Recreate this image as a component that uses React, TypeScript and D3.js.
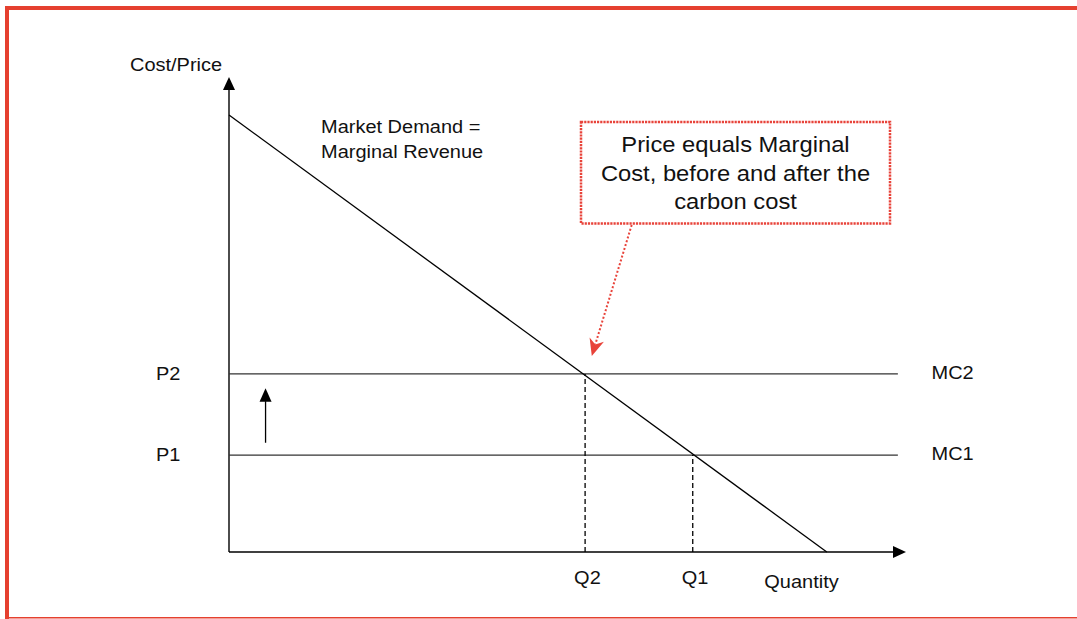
import React from "react";
import * as d3 from "d3";

// ---- data ----
const quantityDomain = [0, 100];
const priceDomain = [0, 100];
const demandPoints = [
  { q: 0, p: 92 },
  { q: 88.3, p: 0 },
];
const mcNames = ["MC1", "MC2"];
const mcPrices = [20.4, 37.5];
const priceLabels = ["P1", "P2"];
const quantityLabels = ["Q1", "Q2"];
const quantityValues = [68.5, 52.6];
const mcLineEnd = 98.8;
const shiftArrow = { q: 5.4, from: 23.0, to: 34.5 };
const noteLines = ["Price equals Marginal", "Cost, before and after the", "carbon cost"];
const demandLabel = ["Market Demand =", "Marginal Revenue"];

const W = 1077;
const H = 619;
const RED = "#e8433a";
const FONT = "'Liberation Sans', Arial, Helvetica, sans-serif";
const SX = 1.08;

function T({ x, y, children, size = 18.5, anchor = "start", fill = "#111" }: any) {
  return (
    <text
      transform={`translate(${x},${y}) scale(${SX},1)`}
      textAnchor={anchor}
      fontFamily={FONT}
      fontSize={size}
      fill={fill}
    >
      {children}
    </text>
  );
}

export default function App() {
  const x = d3.scaleLinear().domain(quantityDomain).range([229, 906]);
  const y = d3.scaleLinear().domain(priceDomain).range([552, 77]);
  const line = d3
    .line<{ q: number; p: number }>()
    .x((d) => x(d.q))
    .y((d) => y(d.p));

  const x0 = x(0);
  const y0 = y(0);
  const xEnd = x(quantityDomain[1]);
  const yEnd = y(priceDomain[1]);

  // annotation arrow
  const a0 = { x: 631.7, y: 225 };
  const tip = { x: x(quantityValues[1]) + 6.7, y: y(mcPrices[1]) - 18 };
  const dx = tip.x - a0.x;
  const dy = tip.y - a0.y;
  const len = Math.hypot(dx, dy);
  const ux = dx / len;
  const uy = dy / len;
  const px = -uy;
  const py = ux;
  const hl = 17;
  const hw = 7.5;
  const base = { x: tip.x - ux * hl, y: tip.y - uy * hl };
  const notch = { x: tip.x - ux * hl * 0.7, y: tip.y - uy * hl * 0.7 };
  const headPath = `M${tip.x},${tip.y}L${base.x + px * hw},${base.y + py * hw}L${notch.x},${notch.y}L${base.x - px * hw},${base.y - py * hw}Z`;

  const boxX = 581;
  const boxY = 122;
  const boxW = 309;
  const boxH = 101.5;
  const boxCx = boxX + boxW / 2;

  return (
    <svg
      width={W}
      height={H}
      style={{ position: "absolute", left: 0, top: 0, background: "#fff" }}
    >
      {/* frame */}
      <rect x={0} y={0} width={W} height={H} fill="#fff" />
      <rect x={5} y={6} width={W - 5} height={4} fill="#e5402f" />
      <rect x={5} y={6} width={4} height={H - 6} fill="#e5402f" />
      <rect x={5} y={617} width={W - 5} height={1.5} fill="#e5402f" />

      {/* axes */}
      <line x1={x0} y1={y0} x2={x0} y2={yEnd + 13} stroke="#000" strokeWidth={1.4} />
      <path d={`M${x0 - 6},${yEnd + 13}L${x0 + 6},${yEnd + 13}L${x0},${yEnd}Z`} fill="#000" />
      <line x1={x0} y1={y0} x2={xEnd - 13} y2={y0} stroke="#000" strokeWidth={1.4} />
      <path d={`M${xEnd - 13},${y0 - 6}L${xEnd - 13},${y0 + 6}L${xEnd},${y0}Z`} fill="#000" />

      {/* MC lines */}
      {mcPrices.map((p, i) => (
        <line key={i} x1={x0} y1={y(p)} x2={x(mcLineEnd)} y2={y(p)} stroke="#333" strokeWidth={1.3} />
      ))}

      {/* dashed verticals */}
      {quantityValues.map((q, i) => (
        <line
          key={i}
          x1={x(q)}
          y1={y0}
          x2={x(q)}
          y2={y(mcPrices[i])}
          stroke="#000"
          strokeWidth={1.3}
          strokeDasharray="5,3"
        />
      ))}

      {/* demand */}
      <path d={line(demandPoints) || ""} fill="none" stroke="#000" strokeWidth={1.3} />

      {/* shift arrow */}
      <line
        x1={x(shiftArrow.q)}
        y1={y(shiftArrow.from)}
        x2={x(shiftArrow.q)}
        y2={y(shiftArrow.to) + 13}
        stroke="#000"
        strokeWidth={1.3}
      />
      <path
        d={`M${x(shiftArrow.q) - 6},${y(shiftArrow.to) + 13.5}L${x(shiftArrow.q) + 6},${y(shiftArrow.to) + 13.5}L${x(shiftArrow.q)},${y(shiftArrow.to)}Z`}
        fill="#000"
      />

      {/* annotation box */}
      <rect
        x={boxX}
        y={boxY}
        width={boxW}
        height={boxH}
        fill="#fff"
        stroke={RED}
        strokeWidth={2.5}
        strokeDasharray="2.2,1"
      />
      {noteLines.map((t, i) => (
        <T key={i} x={boxCx} y={152.3 + i * 28.4} size={22} anchor="middle">
          {t}
        </T>
      ))}
      <line
        x1={a0.x}
        y1={a0.y}
        x2={notch.x}
        y2={notch.y}
        stroke={RED}
        strokeWidth={2}
        strokeDasharray="2,2"
      />
      <path d={headPath} fill={RED} />

      {/* labels */}
      <T x={130} y={71}>Cost/Price</T>
      {demandLabel.map((t, i) => (
        <T key={i} x={321} y={133.3 + i * 25}>
          {t}
        </T>
      ))}
      {priceLabels.map((t, i) => (
        <T key={t} x={156} y={y(mcPrices[i]) + 5.7}>
          {t}
        </T>
      ))}
      {mcNames.map((t, i) => (
        <T key={t} x={931.5} y={y(mcPrices[i]) + 5.2}>
          {t}
        </T>
      ))}
      {quantityLabels.map((t, i) => (
        <T key={t} x={x(quantityValues[i]) - 11} y={583.5}>
          {t}
        </T>
      ))}
      <T x={764.3} y={587.5}>Quantity</T>
    </svg>
  );
}
